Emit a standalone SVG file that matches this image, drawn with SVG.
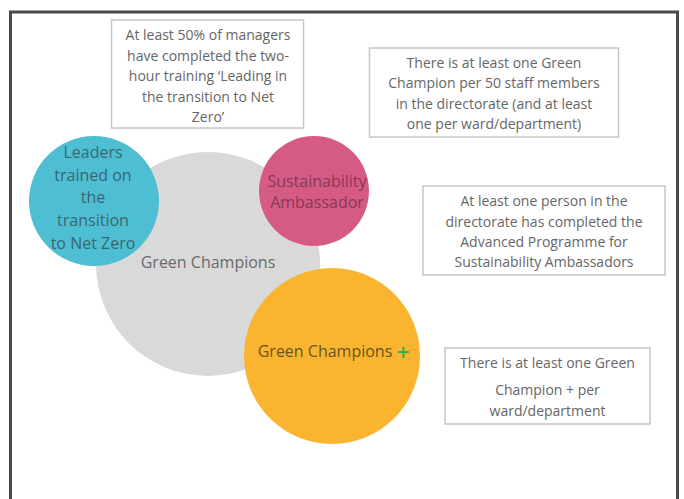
<svg xmlns="http://www.w3.org/2000/svg" width="684" height="499" viewBox="0 0 684 499">
<style>
.box{fill:#fff;stroke:#c6c6c6;stroke-width:1.5}
.bt{font-family:"Open Sans","Liberation Sans",sans-serif;font-size:14px;fill:#666;text-anchor:middle}
.ct{font-family:"Open Sans","Liberation Sans",sans-serif;font-size:16px;text-anchor:middle}
</style>
<rect x="0" y="0" width="684" height="499" fill="#fff"/>
<path d="M10.5 510 V12 H677.5 V510" fill="none" stroke="#4a4a4a" stroke-width="3"/>
<g id="gray-circle">
<circle cx="208" cy="264" r="112" fill="#d9d9d9"/>
<text class="ct" x="208" y="268" fill="#6a6a6a">Green Champions</text>
</g>
<g id="teal-circle">
<circle cx="94" cy="201" r="65" fill="#4ebfd3"/>
<text class="ct" x="93" y="158" fill="#3b6670" font-size="17">Leaders</text>
<text class="ct" x="93" y="181" fill="#3b6670" font-size="17">trained on</text>
<text class="ct" x="93" y="203" fill="#3b6670" font-size="17">the</text>
<text class="ct" x="93" y="226" fill="#3b6670" font-size="17">transition</text>
<text class="ct" x="93" y="249" fill="#3b6670" font-size="17">to Net Zero</text>
</g>
<g id="pink-circle">
<circle cx="314" cy="191" r="55" fill="#d65b84"/>
<text class="ct" x="317" y="187" fill="#86385a">Sustainability</text>
<text class="ct" x="317" y="208" fill="#86385a">Ambassador</text>
</g>
<g id="orange-circle">
<circle cx="332" cy="356" r="88" fill="#fbb430"/>
<text class="ct" x="325" y="357" fill="#665520">Green Champions</text>
<text x="403" y="358" font-family="DejaVu Sans,sans-serif" font-size="17" font-weight="bold" fill="#2fb34a" text-anchor="middle">+</text>
</g>
<g id="box-managers">
<rect class="box" x="111.5" y="20" width="192" height="108"/>
<text class="bt" x="208" y="40">At least 50% of managers</text>
<text class="bt" x="208" y="61">have completed the two-</text>
<text class="bt" x="208" y="81">hour training ‘Leading in</text>
<text class="bt" x="208" y="102">the transition to Net</text>
<text class="bt" x="208" y="122">Zero’</text>
</g>
<g id="box-green-champion">
<rect class="box" x="369.5" y="48" width="249" height="89"/>
<text class="bt" x="494" y="68">There is at least one Green</text>
<text class="bt" x="494" y="88">Champion per 50 staff members</text>
<text class="bt" x="494" y="109">in the directorate (and at least</text>
<text class="bt" x="494" y="129">one per ward/department)</text>
</g>
<g id="box-advanced">
<rect class="box" x="423" y="186" width="242" height="89"/>
<text class="bt" x="544" y="206">At least one person in the</text>
<text class="bt" x="544" y="227">directorate has completed the</text>
<text class="bt" x="544" y="247">Advanced Programme for</text>
<text class="bt" x="544" y="267">Sustainability Ambassadors</text>
</g>
<g id="box-champion-plus">
<rect class="box" x="445" y="348" width="205" height="76"/>
<text class="bt" x="547.5" y="368">There is at least one Green</text>
<text class="bt" x="547.5" y="395">Champion + per</text>
<text class="bt" x="547.5" y="416">ward/department</text>
</g>
<g id="connectors"></g>
</svg>
